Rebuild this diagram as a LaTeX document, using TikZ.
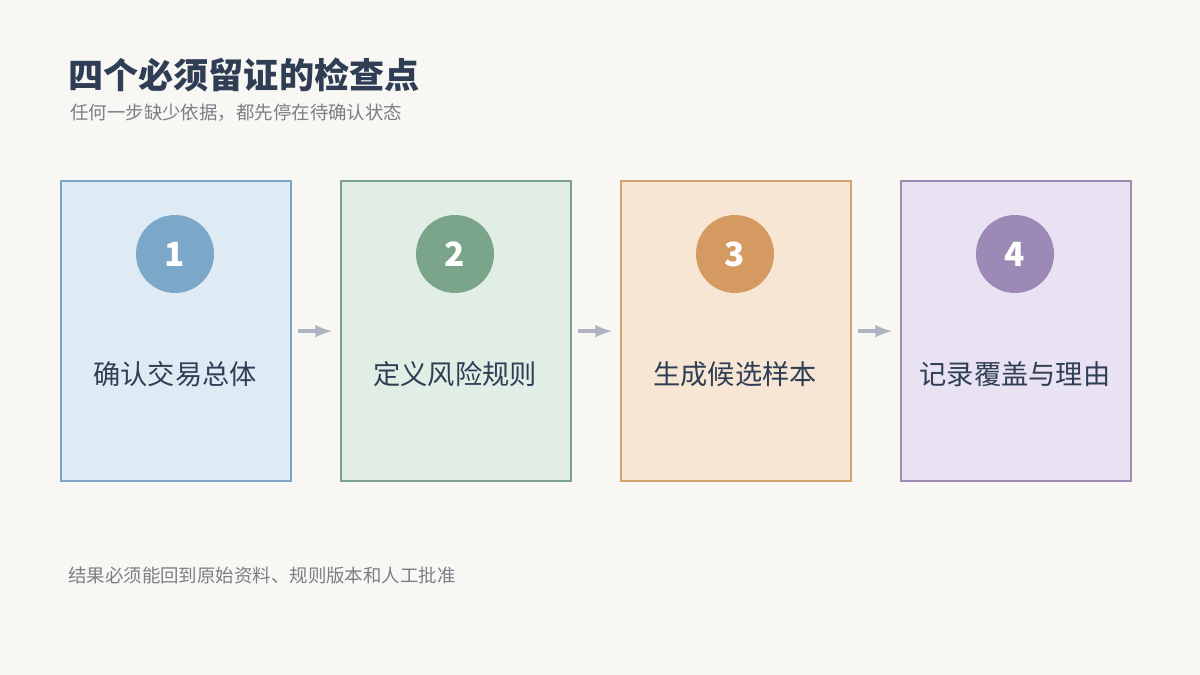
\documentclass[tikz,border=0pt]{standalone}
\usepackage{fontspec}
\setmainfont{Noto Sans CJK SC}
\usetikzlibrary{positioning}
\definecolor{bgc}{HTML}{F8F7F4}
\definecolor{ink}{HTML}{2F3E55}
\definecolor{mute}{HTML}{7A7F88}
\definecolor{arr}{HTML}{AEB4C0}
\definecolor{fillA}{HTML}{DEEAF4}\definecolor{lineA}{HTML}{7FA5C4}\definecolor{dotA}{HTML}{7BA7C9}
\definecolor{fillB}{HTML}{E1EEE6}\definecolor{lineB}{HTML}{7DA08A}\definecolor{dotB}{HTML}{7BA58A}
\definecolor{fillC}{HTML}{F6E6D3}\definecolor{lineC}{HTML}{D4A26E}\definecolor{dotC}{HTML}{D49A62}
\definecolor{fillD}{HTML}{E9E2F2}\definecolor{lineD}{HTML}{9E8BB4}\definecolor{dotD}{HTML}{9C89B6}
\tikzset{
  card/.style={draw=line#1, fill=fill#1, line width=1.3pt, minimum width=4.6cm, minimum height=6cm, anchor=north west},
  badge/.style={circle, fill=dot#1, minimum size=1.56cm, text=white, font=\fontsize{19}{19}\selectfont\bfseries},
  steplabel/.style={text=ink, font=\fontsize{15.5}{21}\selectfont, align=center, text width=4cm},
  flow/.style={-latex, arr, line width=2.2pt}
}
\begin{document}
\begin{tikzpicture}[x=0.02cm, y=-0.02cm]
  \fill[bgc] (0,0) rectangle (1200,675);
  \useasboundingbox (0,0) rectangle (1200,675);
  \node[anchor=west, text=ink, font=\fontsize{20}{20}\selectfont\bfseries] (title) at (62,75) {四个必须留证的检查点};
  \node[anchor=west, text=mute, font=\fontsize{10.5}{10.5}\selectfont] (sub) at (64,113) {任何一步缺少依据，都先停在待确认状态};
  \foreach \k/\x/\n/\txt in {A/60/1/确认交易总体, B/340/2/定义风险规则, C/620/3/生成候选样本, D/900/4/记录覆盖与理由} {
    \node[card=\k] (card\n) at (\x,180) {};
    \node[badge=\k] (dot\n) at (\x+115,254) {\n};
    \node[steplabel] (lab\n) at (\x+115,374) {\txt};
  }
  % connectors between cards
  \foreach \a/\b in {1/2, 2/3, 3/4}
    \draw[flow] ([xshift=0.12cm]card\a.east) -- ([xshift=-0.16cm]card\b.west);
  \node[anchor=west, text=mute, font=\fontsize{10.5}{10.5}\selectfont] (foot) at (62,576) {结果必须能回到原始资料、规则版本和人工批准};
\end{tikzpicture}
\end{document}
